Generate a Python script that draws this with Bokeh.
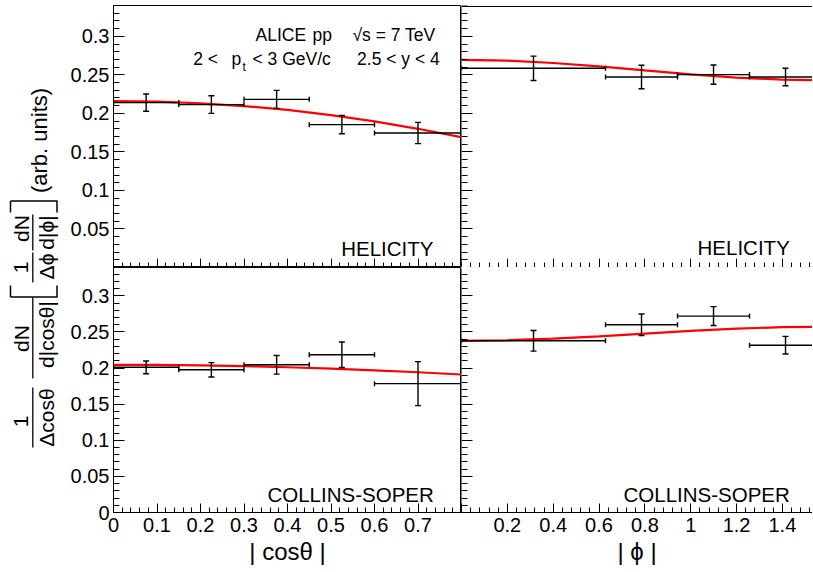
import numpy as np
from bokeh.plotting import figure
from bokeh.models import Range1d, FixedTicker, LinearAxis, Label
from bokeh.layouts import row, column
from bokeh.embed import file_html
from bokeh.resources import INLINE

# ---------------- data ----------------
COS_EDGES = [0.0, 0.15, 0.30, 0.45, 0.60, 0.80]
COS_CENTERS = [0.075, 0.225, 0.375, 0.525, 0.70]
PHI_EDGES = [0.0, 0.6283, 0.9425, 1.2566, 1.5708]
PHI_CENTERS = [0.3142, 0.7854, 1.0996, 1.4137]

HEL_COS_Y = [0.2140, 0.2114, 0.2182, 0.1854, 0.1745]
HEL_COS_ERR = [0.0112, 0.0114, 0.0117, 0.0119, 0.0138]
HEL_PHI_Y = [0.2585, 0.2472, 0.2503, 0.2472]
HEL_PHI_ERR = [0.0158, 0.0152, 0.0124, 0.0113]
CS_COS_Y = [0.2010, 0.1976, 0.2045, 0.2184, 0.1784]
CS_COS_ERR = [0.0088, 0.0099, 0.0129, 0.0177, 0.0305]
CS_PHI_Y = [0.2377, 0.2599, 0.2719, 0.2316]
CS_PHI_ERR = [0.0143, 0.0150, 0.0131, 0.0122]

FIT_COS_X = [0.0, 0.1, 0.2, 0.3, 0.4, 0.5, 0.6, 0.7, 0.8]
HEL_COS_FIT = [0.2160, 0.2153, 0.2131, 0.2095, 0.2045, 0.1978, 0.1897, 0.1800, 0.1690]
CS_COS_FIT = [0.2045, 0.2043, 0.2037, 0.2026, 0.2011, 0.1992, 0.1969, 0.1942, 0.1910]
FIT_PHI_X = [0.0, 0.2, 0.4, 0.6, 0.8, 1.0, 1.2, 1.4, 1.6]
HEL_PHI_FIT = [0.2694, 0.2684, 0.2654, 0.2610, 0.2558, 0.2507, 0.2465, 0.2438, 0.2430]
CS_PHI_FIT = [0.2377, 0.2385, 0.2407, 0.2439, 0.2477, 0.2515, 0.2546, 0.2566, 0.2572]

Y_MAJOR = [0.0, 0.05, 0.10, 0.15, 0.20, 0.25, 0.30]
Y_LABELS_TOP = ["", "0.05", "0.1", "0.15", "0.2", "0.25", "0.3"]
Y_LABELS_BOTTOM = ["0", "0.05", "0.1", "0.15", "0.2", "0.25", "0.3"]
COS_MAJOR = [0.0, 0.1, 0.2, 0.3, 0.4, 0.5, 0.6, 0.7]
COS_LABELS = ["0", "0.1", "0.2", "0.3", "0.4", "0.5", "0.6", "0.7"]
PHI_MAJOR = [0.0, 0.2, 0.4, 0.6, 0.8, 1.0, 1.2, 1.4]
PHI_LABELS = ["", "0.2", "0.4", "0.6", "0.8", "1", "1.2", "1.4"]

Y_MINOR = [round(0.01 * i, 2) for i in range(35)]
COS_MINOR = [round(0.02 * i, 2) for i in range(41)]
PHI_MINOR = [round(0.04 * i, 2) for i in range(40)]

FONT = "Liberation Sans"
COS_MAX = 0.8
PHI_VIEW_MAX = 1.5314
Y_TOP_MAX = 0.34
Y_BOT_MAX = 0.3392


def style_axis(ax, ticks, minor, labels, tin, tmin, show, standoff):
    ax.ticker = FixedTicker(ticks=ticks, minor_ticks=minor)
    ax.major_tick_in = tin
    ax.major_tick_out = 0
    ax.minor_tick_in = tmin
    ax.minor_tick_out = 0
    ax.axis_line_color = "black"
    ax.axis_line_width = 1
    ax.major_tick_line_color = "black"
    ax.minor_tick_line_color = "black"
    ax.major_label_text_font = FONT
    ax.major_label_text_color = "black"
    ax.major_label_text_font_size = "20px"
    ax.major_label_standoff = standoff
    if show:
        ax.major_label_overrides = dict(zip(ticks, labels))
    else:
        ax.fixed_location = 0
        ax.major_label_overrides = dict(zip(ticks, [""] * len(ticks)))


def panel(width, height, mbl, mbt, mbb, xmax, ymax, right):
    p = figure(width=width, height=height,
               x_range=Range1d(0, xmax), y_range=Range1d(0, ymax),
               output_backend="svg", toolbar_location=None, title=None,
               min_border=0, min_border_left=mbl, min_border_bottom=mbb,
               min_border_right=0, min_border_top=mbt)
    p.grid.visible = False
    p.background_fill_color = "white"
    p.border_fill_color = "white"
    if right:
        p.outline_line_color = None
    else:
        p.outline_line_color = "black"
        p.outline_line_width = 1
    return p


def draw(p, edges, centers, vals, errs, fx, fy):
    p.line(fx, fy, line_color="#ff0000", line_width=2.2)
    lo = edges[:-1]
    hi = edges[1:]
    p.segment(x0=lo, y0=vals, x1=hi, y1=vals, line_color="black", line_width=1.4)
    dn = [v - e for v, e in zip(vals, errs)]
    up = [v + e for v, e in zip(vals, errs)]
    p.segment(x0=centers, y0=dn, x1=centers, y1=up, line_color="black", line_width=1.4)
    p.scatter(x=list(centers) * 2, y=dn + up, marker="dash", size=6,
              line_color="black", line_width=1.4)
    p.scatter(x=list(lo) + list(hi), y=list(vals) * 2, marker="dash", angle=np.pi / 2,
              size=5, line_color="black", line_width=1.4)


def lab(p, x, y, text, size, align="left"):
    p.add_layout(Label(x=x, y=y, text=text, text_align=align, text_baseline="alphabetic",
                       text_font=FONT, text_font_size=size, text_color="black"))


# ---------------- panels ----------------
tl = panel(401, 267, 53, 5, 0, COS_MAX, Y_TOP_MAX, False)
tr = panel(351, 267, 0, 5, 0, PHI_VIEW_MAX, Y_TOP_MAX, True)
bl = panel(401, 304, 53, 0, 59, COS_MAX, Y_BOT_MAX, False)
br = panel(351, 304, 0, 0, 59, PHI_VIEW_MAX, Y_BOT_MAX, True)

style_axis(tl.yaxis[0], Y_MAJOR, Y_MINOR, Y_LABELS_TOP, 11, 6, True, 4)
style_axis(bl.yaxis[0], Y_MAJOR, Y_MINOR, Y_LABELS_BOTTOM, 11, 6, True, 4)
style_axis(tr.yaxis[0], Y_MAJOR, Y_MINOR, Y_LABELS_TOP, 11, 6, False, 0)
style_axis(br.yaxis[0], Y_MAJOR, Y_MINOR, Y_LABELS_TOP, 11, 6, False, 0)
style_axis(tl.xaxis[0], COS_MAJOR, COS_MINOR, COS_LABELS, 9, 5, False, 0)
style_axis(bl.xaxis[0], COS_MAJOR, COS_MINOR, COS_LABELS, 9, 5, True, 5)
style_axis(tr.xaxis[0], PHI_MAJOR, PHI_MINOR, PHI_LABELS, 9, 5, False, 0)
style_axis(br.xaxis[0], PHI_MAJOR, PHI_MINOR, PHI_LABELS, 9, 5, True, 5)

# top border line of the clipped right-hand panel
top_ax = LinearAxis(ticker=FixedTicker(ticks=[]), fixed_location=0.33935,
                    axis_line_color="black", major_tick_in=0, major_tick_out=0,
                    minor_tick_in=0, minor_tick_out=0)
tr.add_layout(top_ax, "above")

for ax, t in ((bl.xaxis[0], "| cosθ |"), (br.xaxis[0], "| ϕ |")):
    ax.axis_label = t
    ax.axis_label_text_font = FONT
    ax.axis_label_text_font_size = "24px"
    ax.axis_label_text_font_style = "normal"
    ax.axis_label_text_color = "black"
    ax.axis_label_standoff = 3

draw(tl, COS_EDGES, COS_CENTERS, HEL_COS_Y, HEL_COS_ERR, FIT_COS_X, HEL_COS_FIT)
draw(tr, PHI_EDGES, PHI_CENTERS, HEL_PHI_Y, HEL_PHI_ERR, FIT_PHI_X, HEL_PHI_FIT)
draw(bl, COS_EDGES, COS_CENTERS, CS_COS_Y, CS_COS_ERR, FIT_COS_X, CS_COS_FIT)
draw(br, PHI_EDGES, PHI_CENTERS, CS_PHI_Y, CS_PHI_ERR, FIT_PHI_X, CS_PHI_FIT)

# panel texts
lab(tl, 0.3264, 0.3011, "ALICE", "17.5px")
lab(tl, 0.4575, 0.3011, "pp", "17.5px")
lab(tl, 0.7402, 0.3011, "√s = 7 TeV", "17.5px", "right")
lab(tl, 0.1832, 0.2708, "2 <", "17.5px")
lab(tl, 0.2713, 0.2708, "p", "17.5px")
lab(tl, 0.2966, 0.2608, "t", "12px")
lab(tl, 0.3195, 0.2708, "< 3 GeV/c", "17.5px")
lab(tl, 0.7501, 0.2708, "2.5 < y < 4", "17.5px", "right")
lab(tl, 0.7356, 0.0243, "HELICITY", "20.5px", "right")
lab(tr, 1.4324, 0.0256, "HELICITY", "20.5px", "right")
lab(bl, 0.7363, 0.0253, "COLLINS-SOPER", "20.5px", "right")
lab(br, 1.4324, 0.0253, "COLLINS-SOPER", "20.5px", "right")

# ---------------- rotated y-axis title ----------------
tf = figure(width=60, height=571, x_range=Range1d(0, 60), y_range=Range1d(571, 0),
            output_backend="svg", toolbar_location=None, title=None,
            x_axis_location=None, y_axis_location=None, min_border=0)
tf.outline_line_color = None
tf.grid.visible = False
tf.background_fill_color = "white"
tf.border_fill_color = "white"


def vlab(text, xc, yc, size):
    tf.add_layout(Label(x=xc, y=yc, text=text, angle=np.pi / 2,
                        text_align="center", text_baseline="middle",
                        text_font=FONT, text_font_size=f"{size}px", text_color="black"))


vlab("1", 20.7, 421, 21)
vlab("Δcosθ", 45.5, 417, 21)
vlab("dN", 20.7, 338, 21)
vlab("d|cosθ|", 45.5, 334, 21)
vlab("1", 20.7, 267, 21)
vlab("Δϕ", 45.5, 266, 21)
vlab("dN", 20.7, 228, 21)
vlab("d|ϕ|", 45.5, 232, 21)
vlab("(arb. units)", 39, 140, 22)
# fraction bars
bars_y0 = [387, 297, 252, 214]
bars_y1 = [447, 378, 282, 250]
tf.segment(x0=[32.3] * 4, x1=[32.3] * 4, y0=bars_y0, y1=bars_y1,
           line_color="black", line_width=1.3)
# large square brackets [ ... ]
tf.segment(x0=[10, 10, 56.5, 10, 10, 56.5], x1=[57, 10, 56.5, 57, 10, 56.5],
           y0=[296.5, 296.5, 296.5, 200.5, 200.5, 200.5],
           y1=[296.5, 285, 285, 200.5, 212, 212],
           line_color="black", line_width=1.5)

layout = row(tf, column(row(tl, tr), row(bl, br)))
open("out.html", "w").write(file_html(layout, INLINE, title="ALICE J/psi polarization"))
